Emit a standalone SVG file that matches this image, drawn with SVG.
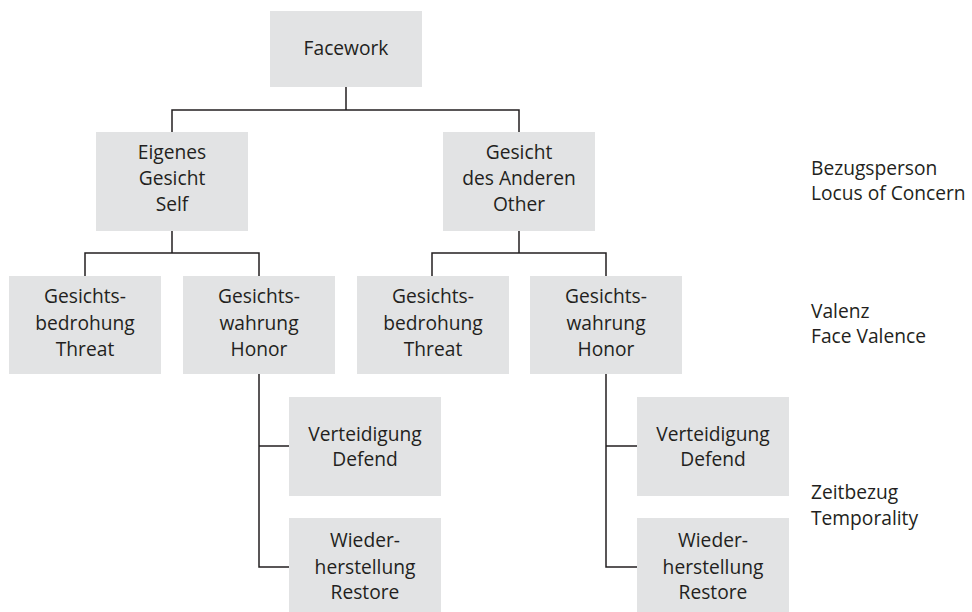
<svg xmlns="http://www.w3.org/2000/svg" width="972" height="612" viewBox="0 0 972 612">
  <style>
    .box { fill: #e2e3e4; }
    .lbl { font-family: "Open Sans", "Liberation Sans", Arial, sans-serif; font-size: 19.2px; fill: #231f20; text-anchor: middle; }
    .side { font-family: "Open Sans", "Liberation Sans", Arial, sans-serif; font-size: 19.2px; fill: #231f20; }
    .edge { fill: none; stroke: #231f20; stroke-width: 1.5; }
  </style>
  <rect width="972" height="612" fill="#ffffff"/>

  <!-- tree connectors -->
  <g id="connectors">
    <path class="edge" d="M346 87 V110 M172 132 V110 H519 V132"/>
    <path class="edge" d="M172 231 V253 M85 276 V253 H259 V276"/>
    <path class="edge" d="M519 231 V253 M432 276 V253 H606 V276"/>
    <path class="edge" d="M259 374 V567 H289 M259 446 H289"/>
    <path class="edge" d="M606 374 V567 H637 M606 446 H637"/>
  </g>

  <g id="facework">
    <rect class="box" x="270" y="11" width="152" height="76"/>
    <text class="lbl" x="346" y="55">Facework</text>
  </g>

  <g id="self">
    <rect class="box" x="96" y="132" width="152" height="99"/>
    <text class="lbl" x="172" y="159">Eigenes</text>
    <text class="lbl" x="172" y="185">Gesicht</text>
    <text class="lbl" x="172" y="211">Self</text>
  </g>

  <g id="other">
    <rect class="box" x="443" y="132" width="152" height="99"/>
    <text class="lbl" x="519" y="159">Gesicht</text>
    <text class="lbl" x="519" y="185">des Anderen</text>
    <text class="lbl" x="519" y="211">Other</text>
  </g>

  <g id="self-threat">
    <rect class="box" x="9" y="276" width="152" height="98"/>
    <text class="lbl" x="85" y="303">Gesichts-</text>
    <text class="lbl" x="85" y="330">bedrohung</text>
    <text class="lbl" x="85" y="356">Threat</text>
  </g>

  <g id="self-honor">
    <rect class="box" x="183" y="276" width="152" height="98"/>
    <text class="lbl" x="259" y="303">Gesichts-</text>
    <text class="lbl" x="259" y="330">wahrung</text>
    <text class="lbl" x="259" y="356">Honor</text>
  </g>

  <g id="other-threat">
    <rect class="box" x="357" y="276" width="152" height="98"/>
    <text class="lbl" x="433" y="303">Gesichts-</text>
    <text class="lbl" x="433" y="330">bedrohung</text>
    <text class="lbl" x="433" y="356">Threat</text>
  </g>

  <g id="other-honor">
    <rect class="box" x="530" y="276" width="152" height="98"/>
    <text class="lbl" x="606" y="303">Gesichts-</text>
    <text class="lbl" x="606" y="330">wahrung</text>
    <text class="lbl" x="606" y="356">Honor</text>
  </g>

  <g id="self-defend">
    <rect class="box" x="289" y="397" width="152" height="99"/>
    <text class="lbl" x="365" y="441">Verteidigung</text>
    <text class="lbl" x="365" y="466">Defend</text>
  </g>

  <g id="self-restore">
    <rect class="box" x="289" y="518" width="152" height="94"/>
    <text class="lbl" x="365" y="547">Wieder-</text>
    <text class="lbl" x="365" y="574">herstellung</text>
    <text class="lbl" x="365" y="599">Restore</text>
  </g>

  <g id="other-defend">
    <rect class="box" x="637" y="397" width="152" height="99"/>
    <text class="lbl" x="713" y="441">Verteidigung</text>
    <text class="lbl" x="713" y="466">Defend</text>
  </g>

  <g id="other-restore">
    <rect class="box" x="637" y="518" width="152" height="94"/>
    <text class="lbl" x="713" y="547">Wieder-</text>
    <text class="lbl" x="713" y="574">herstellung</text>
    <text class="lbl" x="713" y="599">Restore</text>
  </g>

  <!-- level captions -->
  <g id="level-locus">
    <text class="side" x="811" y="175">Bezugsperson</text>
    <text class="side" x="811" y="200">Locus of Concern</text>
  </g>
  <g id="level-valence">
    <text class="side" x="811" y="318">Valenz</text>
    <text class="side" x="811" y="343">Face Valence</text>
  </g>
  <g id="level-temporality">
    <text class="side" x="811" y="499">Zeitbezug</text>
    <text class="side" x="811" y="525">Temporality</text>
  </g>
</svg>
